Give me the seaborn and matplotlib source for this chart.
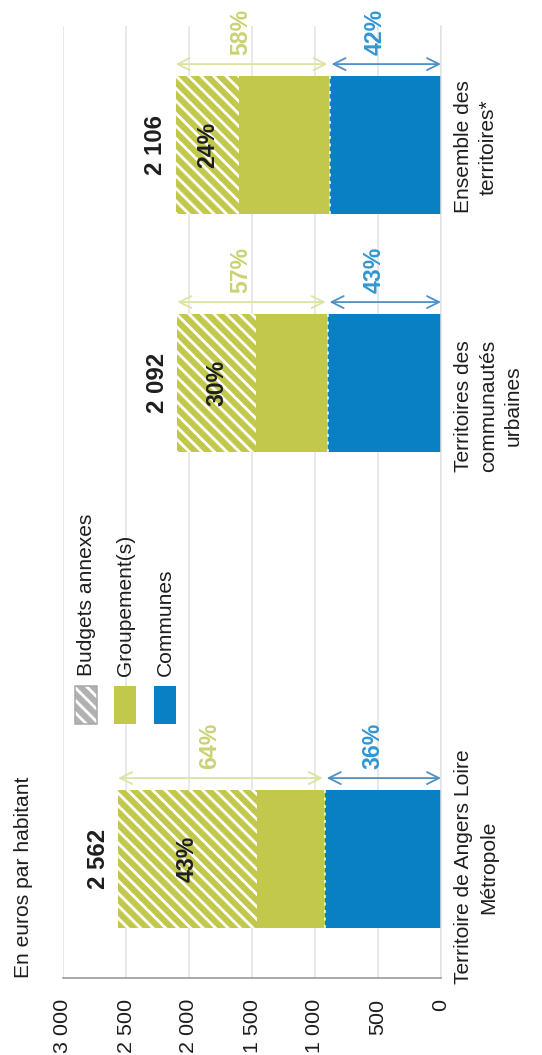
import numpy as np
import pandas as pd
import matplotlib
matplotlib.use("Agg")
import matplotlib.pyplot as plt
import seaborn as sns
from matplotlib.patches import Rectangle

# --- data -------------------------------------------------------------
territoires = [
    "Territoire de Angers Loire\nMétropole",
    "Territoires des\ncommunautés\nurbaines",
    "Ensemble des\nterritoires*",
]
totaux = [2562, 2092, 2106]                # euros par habitant
pct_communes = [36, 43, 42]                 # part des communes
pct_groupements = [64, 57, 58]              # part des groupements (budgets annexes inclus)
pct_budgets_annexes = [43, 30, 24]          # part des budgets annexes
ticks_valeurs = [0, 500, 1000, 1500, 2000, 2500, 3000]

# --- figure geometry --------------------------------------------------
DPI = 75
W, H = 542, 1055


def pt(px):
    """pixels -> points at the output resolution"""
    return px * 72.0 / DPI


BLUE = "#0980c4"
GREEN = "#c2c84b"
GREEN_ARROW = "#dde3a3"
GREEN_TEXT = "#cbd272"
BLUE_ARROW = "#4f90c4"
BLUE_TEXT = "#3196d3"
DARK = "#1e1e1e"
HATCH = "\\\\"

sns.set_theme(style="white")
plt.rcParams["font.family"] = ["Liberation Sans", "DejaVu Sans"]
plt.rcParams["hatch.linewidth"] = pt(2.8)

totaux_a = np.array(totaux, dtype=float)
communes = totaux_a * np.array(pct_communes) / 100.0
annexes = totaux_a * np.array(pct_budgets_annexes) / 100.0
sans_annexes = totaux_a - annexes

df = pd.DataFrame({
    "territoire": territoires,
    "total": totaux_a,
    "sans_annexes": sans_annexes,
    "communes": communes,
})

# an empty slot between the first territory and the others holds the legend
slots = [territoires[2], territoires[1], " ", territoires[0]]
pos = {name: slots.index(name) for name in territoires}

fig = plt.figure(figsize=(W / DPI, H / DPI), dpi=DPI)
ax = fig.add_axes([63 / W, 1 - 978 / H, (441 - 63) / W, 952 / H])

BAR_W = 0.58
common = dict(data=df, y="territoire", order=slots, orient="h", width=BAR_W,
              errorbar=None, saturation=1, ax=ax)

# stacked bars: full total (hatched annex part), groupement, communes
sns.barplot(x="total", color=GREEN, **common)
for p in ax.containers[0]:
    p.set_hatch(HATCH)
    p.set_edgecolor("white")
    p.set_linewidth(0)
sns.barplot(x="sans_annexes", color=GREEN, linewidth=0, **common)
sns.barplot(x="communes", color=BLUE, linewidth=0, **common)

ys = np.array([pos[t] for t in territoires], dtype=float)
ax.vlines(communes, ys - BAR_W / 2, ys + BAR_W / 2, colors="white",
          linestyles=(0, (2, 3)), lw=pt(1.5), zorder=3)

ax.set_xlim(3000, 0)
ax.set_ylim(len(slots) - 0.5, -0.5)
ax.set_xlabel("")
ax.set_ylabel("")

# value axis (bottom, rotated labels)
ax.set_xticks(ticks_valeurs)
ax.set_xticklabels([f"{v:,}".replace(",", " ") for v in ticks_valeurs],
                   rotation=90, ha="center", va="top", fontsize=pt(21.5),
                   color=DARK)
ax.tick_params(axis="x", length=0, pad=pt(21))
ax.set_yticks([])
ax.grid(axis="x", color="#e3e3e3", lw=pt(1.5))
ax.grid(axis="y", visible=False)
ax.set_axisbelow(True)
for side in ("top", "left"):
    ax.spines[side].set_visible(False)
ax.spines["bottom"].set_color("#8e8e8e")
ax.spines["bottom"].set_linewidth(pt(1.5))
ax.spines["right"].set_color("#e2e2e2")
ax.spines["right"].set_linewidth(pt(1.5))

# category labels on the right
label_shift = [8, 23, 2]
for t, dy in zip(territoires, label_shift):
    ax.annotate(t, xy=(1, pos[t]), xycoords=("axes fraction", "data"),
                xytext=(pt(13), -pt(dy)), textcoords="offset points",
                rotation=90, ha="left", va="center", multialignment="center",
                fontsize=pt(21), color=DARK, linespacing=1.4)

ARROW_OFF = 0.34
for i, t in enumerate(territoires):
    y = pos[t]
    tot = totaux_a[i]
    # total value beyond the bar
    ax.annotate(f"{totaux[i]:,}".replace(",", " "), xy=(tot, y),
                xytext=(-pt(20), 0), textcoords="offset points",
                rotation=90, ha="center", va="center", fontsize=pt(24),
                fontweight="bold", color=DARK)
    # share of budgets annexes, inside the hatched segment
    ax.text(tot - annexes[i] / 2, y, f"{pct_budgets_annexes[i]}%", rotation=90,
            ha="center", va="center", fontsize=pt(23), fontweight="bold",
            color=DARK, zorder=4)
    ya = y - ARROW_OFF
    # groupement arrow
    ax.annotate("", xy=(communes[i], ya), xytext=(tot, ya),
                arrowprops=dict(arrowstyle="<->,head_length=0.6,head_width=0.3",
                                color=GREEN_ARROW, lw=pt(1.8), shrinkA=0,
                                shrinkB=pt(2), mutation_scale=pt(20)))
    ax.annotate(f"{pct_groupements[i]}%", xy=((tot + communes[i]) / 2, ya),
                xytext=(-pt(12), pt(32)), textcoords="offset points",
                rotation=90, ha="center", va="center", fontsize=pt(23),
                fontweight="bold", color=GREEN_TEXT)
    # communes arrow
    ax.annotate("", xy=(0, ya), xytext=(communes[i], ya),
                arrowprops=dict(arrowstyle="<->,head_length=0.6,head_width=0.3",
                                color=BLUE_ARROW, lw=pt(1.8), shrinkA=pt(2),
                                shrinkB=0, mutation_scale=pt(20)))
    ax.annotate(f"{pct_communes[i]}%", xy=(communes[i] / 2, ya),
                xytext=(-pt(10), pt(32)), textcoords="offset points",
                rotation=90, ha="center", va="center", fontsize=pt(23),
                fontweight="bold", color=BLUE_TEXT)

# unit title
fig.text(24 / W, 1 - 978 / H, "En euros par habitant", rotation=90,
         ha="center", va="bottom", fontsize=pt(21), color=DARK)

# legend, laid out in the empty slot
legend_items = [
    ("Budgets annexes", "hatch", 86),
    ("Groupement(s)", GREEN, 125),
    ("Communes", BLUE, 165),
]
for label, style, xc in legend_items:
    x0, y_top, w, h = xc - 11, 686, 22, 38
    if style == "hatch":
        fig.add_artist(Rectangle((x0 / W, 1 - (y_top + h) / H), w / W, h / H,
                                 transform=fig.transFigure, facecolor="#b1b1b1",
                                 edgecolor="white", hatch="\\\\", linewidth=0))
        fig.add_artist(Rectangle((x0 / W, 1 - (y_top + h) / H), w / W, h / H,
                                 transform=fig.transFigure, facecolor="none",
                                 edgecolor="#a8a8a8", linewidth=pt(1.5)))
    else:
        fig.add_artist(Rectangle((x0 / W, 1 - (y_top + h) / H), w / W, h / H,
                                 transform=fig.transFigure, facecolor=style,
                                 linewidth=0))
    fig.text(xc / W, 1 - 676 / H, label, rotation=90, ha="center", va="bottom",
             fontsize=pt(21), color=DARK)

fig.savefig("out.png", dpi=DPI)
